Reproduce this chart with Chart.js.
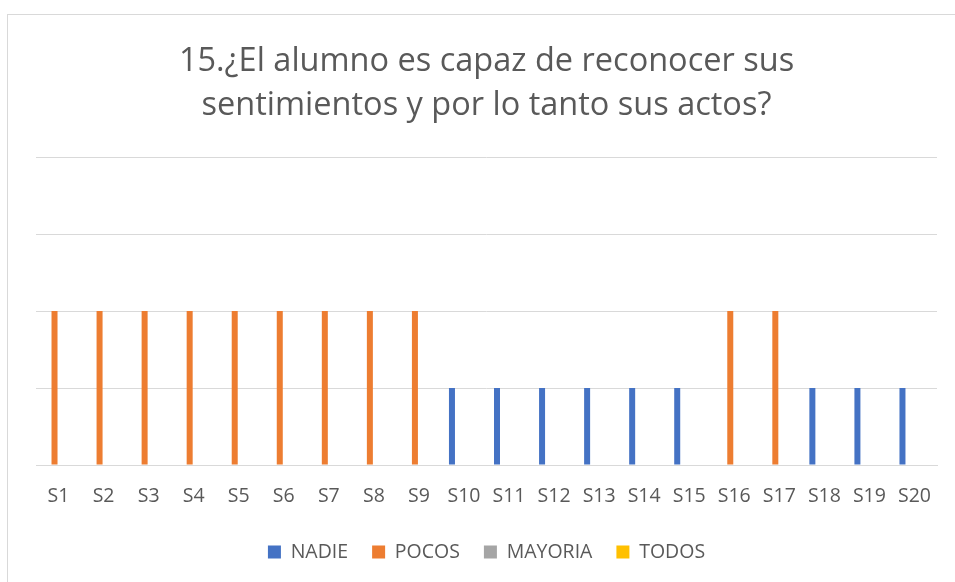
<!DOCTYPE html>
<html>
<head>
<meta charset="utf-8">
<script src="https://cdn.jsdelivr.net/npm/chart.js"></script>
<style>
  body { margin: 0; background: #fff; }
  canvas { display: block; }
</style>
</head>
<body>
<canvas id="chart" width="955" height="582"></canvas>
<script>
const labels = ['S1','S2','S3','S4','S5','S6','S7','S8','S9','S10','S11','S12','S13','S14','S15','S16','S17','S18','S19','S20'];
const nadie   = [0,0,0,0,0,0,0,0,0,1,1,1,1,1,1,0,0,1,1,1];
const pocos   = [2,2,2,2,2,2,2,2,2,0,0,0,0,0,0,2,2,0,0,0];
const mayoria = [0,0,0,0,0,0,0,0,0,0,0,0,0,0,0,0,0,0,0,0];
const todos   = [0,0,0,0,0,0,0,0,0,0,0,0,0,0,0,0,0,0,0,0];
const titleLines = ['15.¿El alumno es capaz de reconocer sus', 'sentimientos y por lo tanto sus actos?'];

const gray = '#595959';
const font = 'Open Sans';

// light frame like the spreadsheet chart area
const frame = {
  id: 'frame',
  beforeDraw(chart) {
    const ctx = chart.ctx;
    ctx.save();
    ctx.fillStyle = '#fff';
    ctx.fillRect(0, 0, chart.width, chart.height);
    ctx.strokeStyle = '#d9d9d9';
    ctx.lineWidth = 1;
    ctx.strokeRect(7.5, 14.5, chart.width, chart.height);
    ctx.restore();
  }
};

function ds(label, data, color) {
  return {
    label: label,
    data: data,
    backgroundColor: color,
    borderWidth: 0,
    categoryPercentage: 0.711,
    barPercentage: 0.75
  };
}

new Chart(document.getElementById('chart').getContext('2d'), {
  type: 'bar',
  data: {
    labels: labels,
    datasets: [
      ds('NADIE', nadie, '#4472C4'),
      ds('POCOS', pocos, '#ED7D31'),
      ds('MAYORIA', mayoria, '#A5A5A5'),
      ds('TODOS', todos, '#FFC000')
    ]
  },
  options: {
    responsive: false,
    animation: false,
    layout: { padding: { left: 36, right: 18, top: 0, bottom: 10.25 } },
    plugins: {
      title: {
        display: true,
        text: titleLines,
        color: gray,
        font: { family: font, size: 32.5, weight: 'normal', lineHeight: 1.354 },
        padding: { top: 40, bottom: 29 }
      },
      legend: {
        position: 'bottom',
        labels: {
          color: gray,
          font: { family: font, size: 19.5 },
          boxWidth: 13,
          boxHeight: 13,
          padding: 24
        }
      },
      tooltip: { enabled: false }
    },
    scales: {
      x: {
        grid: { display: false, drawTicks: false },
        border: { display: true, color: '#d9d9d9' },
        ticks: { color: gray, font: { family: font, size: 19.5 }, padding: 20, maxRotation: 0, autoSkip: false },
        afterFit(scale) { scale.height = 53.25; }
      },
      y: {
        min: 0,
        max: 4,
        ticks: { display: false, stepSize: 1 },
        grid: { color: '#d9d9d9', drawTicks: false },
        border: { display: false }
      }
    }
  },
  plugins: [frame]
});
</script>
</body>
</html>
